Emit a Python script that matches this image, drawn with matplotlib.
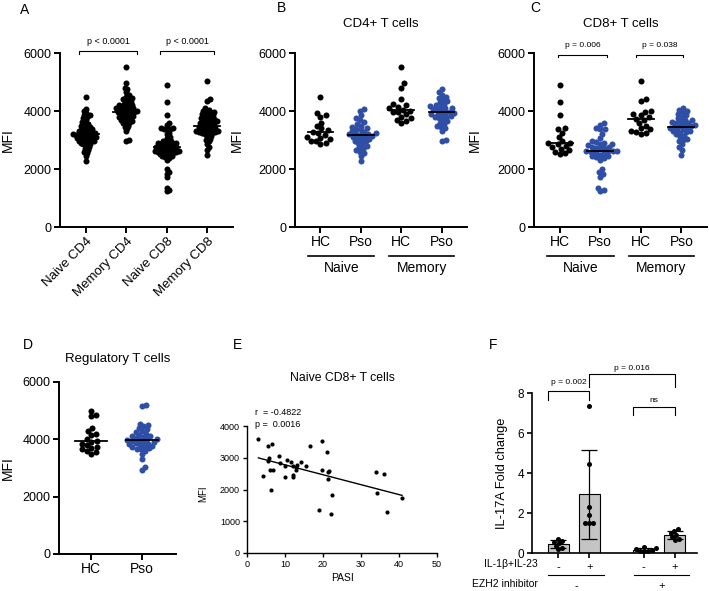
import numpy as np
import matplotlib
matplotlib.use('Agg')
import matplotlib.pyplot as plt

plt.rcParams['font.family'] = ['Liberation Sans', 'DejaVu Sans']

# ---- data ----
cd4_naive_hc = [4470, 3930, 3850, 3800, 3600, 3480, 3400, 3330, 3290, 3250, 3180, 3120, 3080, 3020, 2980, 2950, 2900, 2850]
cd4_naive_pso = [4080, 4000, 3850, 3750, 3700, 3620, 3550, 3500, 3450, 3400, 3380, 3350, 3300, 3280, 3250, 3220, 3200, 3190,
                 3180, 3150, 3120, 3100, 3080, 3050, 3000, 2980, 2950, 2900, 2850, 2800, 2750, 2700, 2650, 2600, 2550, 2450, 2280]
cd4_mem_hc = [5520, 4960, 4800, 4400, 4250, 4200, 4150, 4100, 4050, 4000, 3980, 3950, 3900, 3800, 3750, 3700, 3650, 3600]
cd4_mem_pso = [4750, 4650, 4550, 4500, 4450, 4400, 4350, 4300, 4250, 4200, 4180, 4150, 4120, 4100, 4080, 4050, 4000, 3980,
               3950, 3920, 3900, 3880, 3850, 3820, 3800, 3780, 3750, 3700, 3650, 3600, 3550, 3500, 3450, 3400, 3300, 3000, 2950]

cd8_naive_hc = [4880, 4300, 3870, 3420, 3380, 3250, 3100, 2950, 2900, 2880, 2850, 2800, 2750, 2700, 2650, 2600, 2550, 2520]
cd8_mem_hc = [5020, 4420, 4350, 4000, 3950, 3900, 3850, 3780, 3740, 3700, 3600, 3500, 3420, 3380, 3320, 3280, 3250, 3200]
cd8_mem_pso = [4100, 4050, 4000, 3950, 3900, 3850, 3800, 3750, 3700, 3680, 3650, 3620, 3600, 3580, 3550, 3520, 3500, 3470,
               3450, 3430, 3400, 3380, 3350, 3320, 3300, 3280, 3250, 3200, 3150, 3100, 3050, 3000, 2950, 2850, 2750, 2650, 2500]

treg_hc = [5000, 4850, 4800, 4400, 4300, 4200, 4150, 4000, 3950, 3900, 3850, 3800, 3750, 3700, 3650, 3600, 3550, 3480]
treg_pso = [5200, 5150, 4550, 4500, 4450, 4400, 4350, 4300, 4250, 4200, 4150, 4120, 4100, 4080, 4050, 4020, 4000, 3980,
            3960, 3950, 3920, 3900, 3880, 3850, 3820, 3800, 3780, 3750, 3720, 3700, 3680, 3650, 3600, 3500, 3300, 3050, 2930]

# panel E: PASI vs naive CD8 MFI in patients
pasi = [3.0, 4.2, 5.6, 6.6, 5.7, 5.5, 6.1, 6.8, 6.4, 8.3, 8.8, 10.0, 10.0, 10.6, 11.6, 12.2, 12.2, 12.2, 12.8,
        13.2, 12.9, 14.3, 15.5, 16.6, 19.7, 21.0, 19.7, 21.3, 21.5, 21.3, 22.4, 18.9, 22.0, 33.9, 36.0, 34.2, 40.8, 36.8]
mfi_e = [3600, 2440, 3380, 3430, 2980, 2900, 2620, 2620, 2000, 3060, 2840, 2740, 2400, 2940, 2860, 2750, 2450, 2380, 2700,
         2760, 2620, 2870, 2740, 3370, 3530, 3190, 2610, 2560, 2580, 2320, 1840, 1350, 1230, 2550, 2500, 1900, 1730, 1290]
cd8_naive_pso = mfi_e

# panel F: IL-17A fold change
f_minus_minus = [0.72, 0.62, 0.55, 0.48, 0.35, 0.25, 0.18]
f_plus_minus = [7.35, 4.45, 2.3, 1.9, 1.5, 1.5, 1.5]
f_minus_plus = [0.32, 0.25, 0.2, 0.15, 0.12, 0.1, 0.08]
f_plus_plus = [1.2, 1.1, 1.0, 0.9, 0.8, 0.7, 0.65]

W, H = 709, 591
BLUE = '#2f4ea6'
fig = plt.figure(figsize=(W / 100, H / 100), dpi=100)


def box(l, r, t, b):
    return [l / W, 1 - b / H, (r - l) / W, (b - t) / H]


def style(ax, lw=1.4, ln=4, fs=9):
    for s in ['top', 'right']:
        ax.spines[s].set_visible(False)
    for s in ['left', 'bottom']:
        ax.spines[s].set_linewidth(lw)
    ax.tick_params(width=lw, length=ln, labelsize=fs, pad=2)


def swarm_x(ax, center, values, d):
    # simple beeswarm in pixel space
    pts = ax.transData.transform(np.column_stack([np.full(len(values), center), values]))
    cx = pts[0, 0]
    ys = pts[:, 1]
    placed = []
    xs = np.zeros(len(values))
    for i in np.argsort(ys):
        y = ys[i]
        near = [(px, py) for px, py in placed if abs(py - y) < d]
        cands = [0.0]
        for px, py in near:
            w = np.sqrt(d * d - (py - y) ** 2)
            cands += [px + w, px - w]
        cands.sort(key=abs)
        for c in cands:
            if all((c - px) ** 2 + (y - py) ** 2 >= d * d - 1e-6 for px, py in near):
                break
        placed.append((c, y))
        xs[i] = c
    back = ax.transData.inverted().transform(np.column_stack([cx + xs, ys]))
    return back[:, 0]


def dots(ax, pos, vals, color, d=5, s=19, half=0.32):
    xs = swarm_x(ax, pos, vals, d)
    ax.scatter(xs, vals, s=s, color=color, linewidths=0, zorder=3, clip_on=False)
    med = np.median(vals)
    ax.plot([pos - half, pos + half], [med, med], color='black', lw=1.3, zorder=4)


def bracket(ax, x1, x2, y, h, text, fs, ty):
    ax.plot([x1, x1, x2, x2], [y - h, y, y, y - h], color='black', lw=0.8, clip_on=False)
    ax.text((x1 + x2) / 2, ty, text, ha='center', va='center', fontsize=fs)


def mfi_axis(ax):
    ax.set_ylim(0, 6000)
    ax.set_yticks([0, 2000, 4000, 6000])
    ax.set_ylabel('MFI', fontsize=10)


# ---- A ----
axA = fig.add_axes(box(60, 233, 53, 227))
style(axA)
axA.set_xlim(-0.63, 3.63)
mfi_axis(axA)
axA.yaxis.set_label_coords(-0.26, 0.5)
a_groups = [cd4_naive_hc + cd4_naive_pso, cd4_mem_hc + cd4_mem_pso,
            cd8_naive_hc + cd8_naive_pso, cd8_mem_hc + cd8_mem_pso]
a_labels = ['Naive CD4', 'Memory CD4', 'Naive CD8', 'Memory CD8']
for i, g in enumerate(a_groups):
    dots(axA, i, g, 'black', d=3.1)
axA.set_xticks(range(4))
axA.set_xticklabels(a_labels, rotation=45, ha='right', rotation_mode='anchor', fontsize=9.5)
bracket(axA, -0.15, 1.27, 6070, 90, 'p < 0.0001', 6.5, 6400)
bracket(axA, 1.83, 3.17, 6070, 90, 'p < 0.0001', 6.5, 6400)
fig.text(25 / W, 1 - 10 / H, 'A', fontsize=10, ha='center', va='center')


# ---- B and C ----
def hc_pso_panel(rect, title, groups, letter, lx):
    ax = fig.add_axes(box(*rect))
    style(ax)
    ax.set_xlim(-0.63, 3.63)
    mfi_axis(ax)
    ax.yaxis.set_label_coords(-0.30, 0.5)
    for i, g in enumerate(groups):
        if i % 2 == 0:
            dots(ax, i, g, 'black', d=5.4)
        else:
            dots(ax, i, g, BLUE, d=4.4)
    ax.set_xticks(range(4))
    ax.set_xticklabels(['HC', 'Pso', 'HC', 'Pso'], fontsize=10)
    tr = ax.get_xaxis_transform()
    for x1, x2, name in [(-0.3, 1.33, 'Naive'), (1.7, 3.32, 'Memory')]:
        ax.plot([x1, x2], [-0.167, -0.167], color='black', lw=1.2, transform=tr, clip_on=False)
        ax.text((x1 + x2) / 2, -0.236, name, transform=tr, ha='center', va='center', fontsize=10)
    ax.text(0.5, 1 + 29 / 174, title, transform=ax.transAxes, ha='center', va='center', fontsize=9.5)
    fig.text(lx / W, 1 - 8 / H, letter, fontsize=10, ha='center', va='center')
    return ax


axB = hc_pso_panel((295, 467, 53, 227), 'CD4+ T cells',
                   [cd4_naive_hc, cd4_naive_pso, cd4_mem_hc, cd4_mem_pso], 'B', 282)
axC = hc_pso_panel((534, 707, 53, 227), 'CD8+ T cells',
                   [cd8_naive_hc, cd8_naive_pso, cd8_mem_hc, cd8_mem_pso], 'C', 535)
bracket(axC, -0.03, 1.17, 5940, 90, 'p = 0.006', 6, 6250)
bracket(axC, 1.88, 3.05, 5940, 90, 'p = 0.038', 6, 6250)

# ---- D ----
axD = fig.add_axes(box(59, 176, 382, 554))
style(axD)
axD.set_xlim(-0.63, 1.67)
mfi_axis(axD)
axD.yaxis.set_label_coords(-0.376, 0.5)
dots(axD, 0, treg_hc, 'black', d=5.4)
dots(axD, 1, treg_pso, BLUE, d=4.4)
axD.set_xticks([0, 1])
axD.set_xticklabels(['HC', 'Pso'], fontsize=10)
axD.text(0.5, 1 + 23 / 172, 'Regulatory T cells', transform=axD.transAxes, ha='center', va='center', fontsize=9.5)
fig.text(28 / W, 1 - 345 / H, 'D', fontsize=10, ha='center', va='center')

# ---- E ----
axE = fig.add_axes(box(247, 437, 426, 553))
style(axE, lw=1.0, ln=3, fs=6.5)
axE.set_xlim(0, 50)
axE.set_ylim(0, 4000)
axE.set_xticks(range(0, 51, 10))
axE.set_yticks(range(0, 4001, 1000))
axE.scatter(pasi, mfi_e, s=9, color='black', linewidths=0, zorder=3)
k, b0 = np.polyfit(pasi, mfi_e, 1)
xl = np.array([min(pasi), max(pasi)])
axE.plot(xl, k * xl + b0, color='black', lw=1.0)
axE.set_xlabel('PASI', fontsize=7.5, labelpad=3)
axE.set_ylabel('MFI', fontsize=7)
axE.yaxis.set_label_coords(-0.205, 0.47)
axE.text(0.04, 1.11, 'r  = -0.4822', transform=axE.transAxes, fontsize=6.5, va='center')
axE.text(0.04, 1.01, 'p =  0.0016', transform=axE.transAxes, fontsize=6.5, va='center')
axE.text(0.5, 1 + 48 / 127, 'Naive CD8+ T cells', transform=axE.transAxes, ha='center', va='center', fontsize=8.8)
fig.text(237 / W, 1 - 345 / H, 'E', fontsize=10, ha='center', va='center')

# ---- F ----
axF = fig.add_axes(box(532, 697, 393, 553))
style(axF, lw=1.2, ln=3.5, fs=8.5)
fpos = [0, 1, 2.75, 3.75]
fvals = [f_minus_minus, f_plus_minus, f_minus_plus, f_plus_plus]
axF.set_xlim(-0.84, 4.46)
axF.set_ylim(0, 8)
axF.set_yticks([0, 2, 4, 6, 8])
means = [np.mean(v) for v in fvals]
sds = [np.std(v, ddof=1) for v in fvals]
axF.bar(fpos, means, width=0.67, color='#c4c4c4', edgecolor='black', linewidth=0.8, zorder=2)
axF.errorbar(fpos, means, yerr=sds, fmt='none', ecolor='black', elinewidth=0.9, capsize=6, capthick=0.9, zorder=4)
for p, v in zip(fpos, fvals):
    xs = swarm_x(axF, p, v, 4.2)
    axF.scatter(xs, v, s=13, color='black', linewidths=0, zorder=3, clip_on=False)
axF.set_xticks(fpos)
axF.set_xticklabels(['-', '+', '-', '+'], fontsize=8)
axF.tick_params(axis='x', pad=3)
axF.set_ylabel('IL-17A Fold change', fontsize=9.3)
axF.yaxis.set_label_coords(-0.145, 0.5)
bracket(axF, -0.33, 1, 8.1, 0.45, 'p = 0.002', 6, 8.5)
bracket(axF, 1, 3.75, 8.95, 0.65, 'p = 0.016', 6, 9.25)
bracket(axF, 2.42, 3.75, 7.3, 0.4, 'ns', 6, 7.6)
trF = axF.get_xaxis_transform()
for x1, x2, sign in [(-0.33, 1.47, '-'), (2.45, 4.2, '+')]:
    axF.plot([x1, x2], [-0.14, -0.14], color='black', lw=0.8, transform=trF, clip_on=False)
    axF.text((x1 + x2) / 2, -0.205, sign, transform=trF, ha='center', va='center', fontsize=8)
fig.text(538 / W, 1 - 564 / H, 'IL-1β+IL-23', ha='right', va='center', fontsize=7.5)
fig.text(538 / W, 1 - 584 / H, 'EZH2 inhibitor', ha='right', va='center', fontsize=7.5)
fig.text(493 / W, 1 - 345 / H, 'F', fontsize=10, ha='center', va='center')

fig.savefig('out.png', dpi=100)
